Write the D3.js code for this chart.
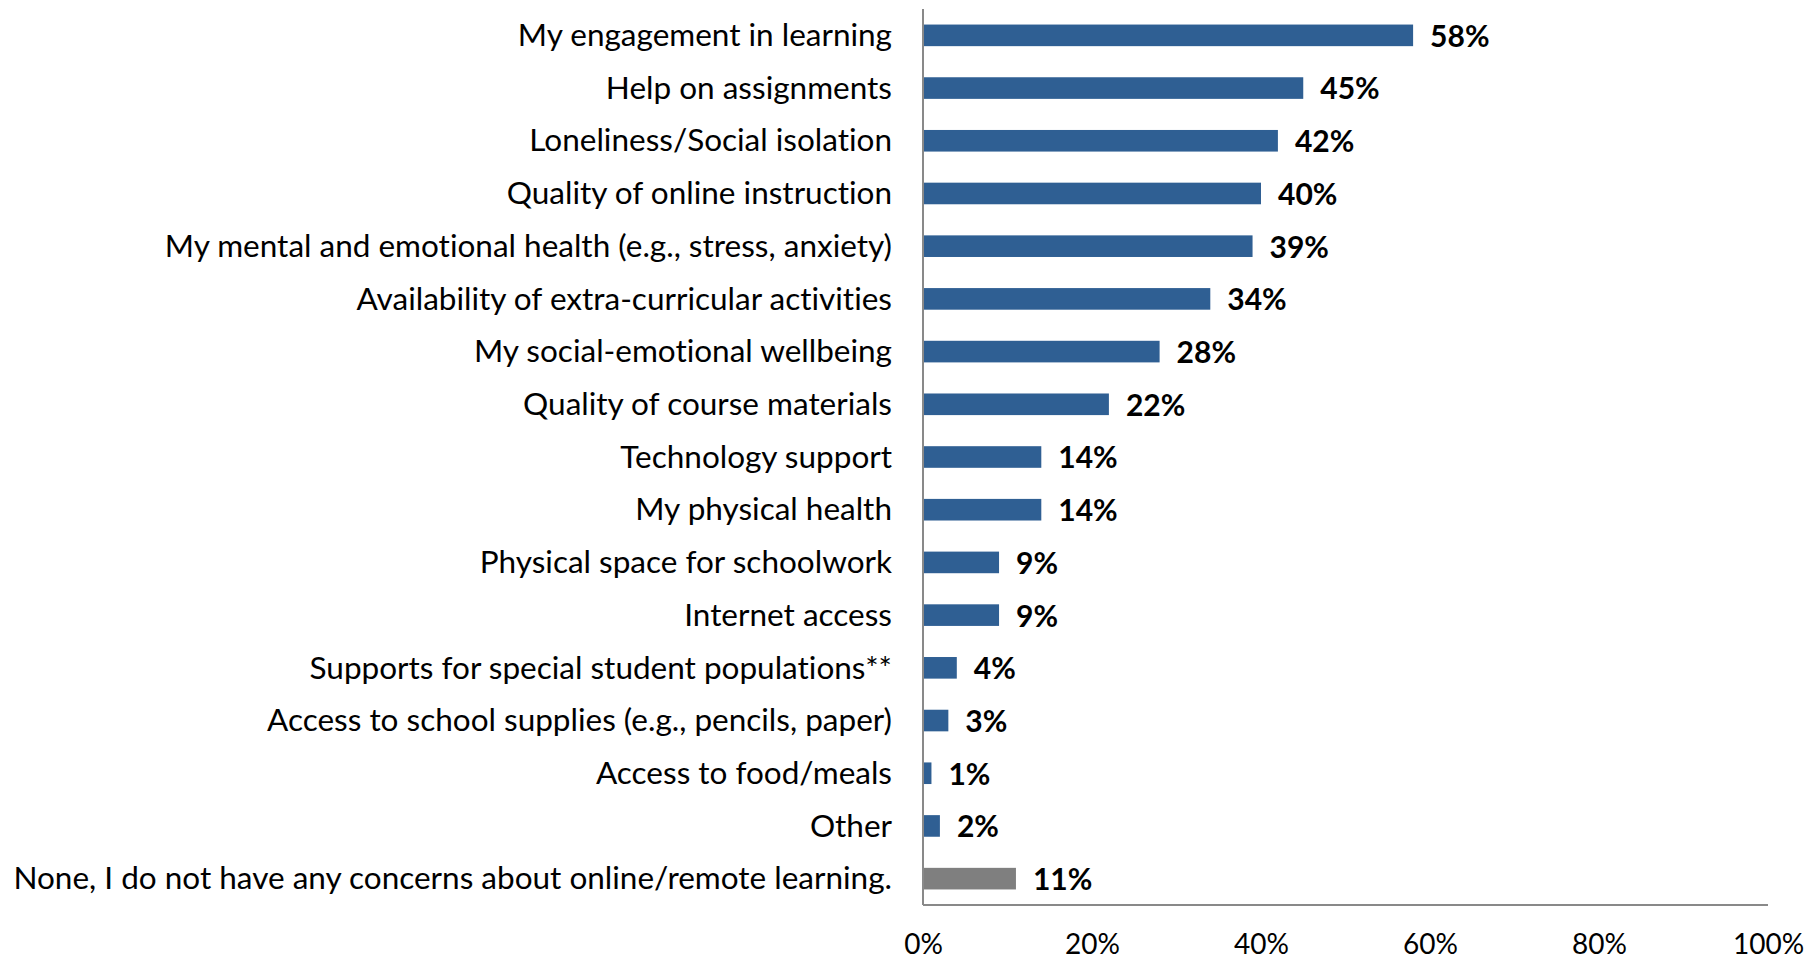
<!DOCTYPE html>
<html>
<head>
<meta charset="utf-8">
<script src="https://cdn.jsdelivr.net/npm/d3@7"></script>
<style>
  html, body { margin: 0; padding: 0; background: #fff; }
  svg { display: block; font-family: Lato, "Open Sans", sans-serif; }
  svg text { font-variant-ligatures: none; font-feature-settings: "liga" 0, "clig" 0; }
</style>
</head>
<body>
<svg id="chart" width="1810" height="961"></svg>
<script>
// Survey responses: concerns about online/remote learning
const categories = [
  "My engagement in learning",
  "Help on assignments",
  "Loneliness/Social isolation",
  "Quality of online instruction",
  "My mental and emotional health (e.g., stress, anxiety)",
  "Availability of extra-curricular activities",
  "My social-emotional wellbeing",
  "Quality of course materials",
  "Technology support",
  "My physical health",
  "Physical space for schoolwork",
  "Internet access",
  "Supports for special student populations**",
  "Access to school supplies (e.g., pencils, paper)",
  "Access to food/meals",
  "Other",
  "None, I do not have any concerns about online/remote learning."
];
const values = [58, 45, 42, 40, 39, 34, 28, 22, 14, 14, 9, 9, 4, 3, 1, 2, 11];
const tickValues = [0, 20, 40, 60, 80, 100];
const tickLabels = ["0%", "20%", "40%", "60%", "80%", "100%"];

const svg = d3.select("#chart");
const margin = { left: 923, right: 42, top: 9, bottom: 56 };
const W = 1810, H = 961;

const x = d3.scaleLinear().domain([0, 100]).range([margin.left, W - margin.right]);
const y = d3.scaleBand().domain(categories).range([margin.top, H - margin.bottom]).paddingInner(0.59).paddingOuter(0.295);

const data = categories.map((c, i) => ({ c, v: values[i], none: i === categories.length - 1 }));

// Bars
svg.append("g").selectAll("rect").data(data).join("rect")
  .attr("x", x(0))
  .attr("y", d => y(d.c))
  .attr("width", d => x(d.v) - x(0))
  .attr("height", y.bandwidth())
  .attr("fill", d => d.none ? "#7f7f7f" : "#2f5f93");

// Value labels
svg.append("g").selectAll("text").data(data).join("text")
  .attr("x", d => x(d.v) + 17)
  .attr("y", d => y(d.c) + y.bandwidth() / 2)
  .attr("dy", "0.38em")
  .attr("font-size", 30)
  .attr("font-weight", 700)
  .attr("fill", "#000")
  .text(d => d.v + "%");

// Category axis (left): vertical line and labels
const yAxis = svg.append("g").attr("transform", `translate(${x(0)},0)`)
  .call(d3.axisLeft(y).tickSize(0).tickPadding(31));
yAxis.select(".domain").attr("stroke", "#898989").attr("stroke-width", 2)
  .attr("d", `M0,${margin.top}V${H - margin.bottom}`);
yAxis.selectAll("text").attr("font-size", 31.5).attr("font-family", "Lato, sans-serif")
  .attr("dy", "0.34em").attr("fill", "#000");

// Value axis (bottom)
const xAxis = svg.append("g").attr("transform", `translate(0,${H - margin.bottom})`)
  .call(d3.axisBottom(x).tickValues(tickValues).tickFormat((d, i) => tickLabels[i]).tickSize(0).tickPadding(29));
xAxis.select(".domain").attr("stroke", "#898989").attr("stroke-width", 2)
  .attr("d", `M${x(0)},0H${x(100)}`);
xAxis.selectAll("text").attr("font-size", 28).attr("font-family", "Lato, sans-serif").attr("fill", "#000");
</script>
</body>
</html>
